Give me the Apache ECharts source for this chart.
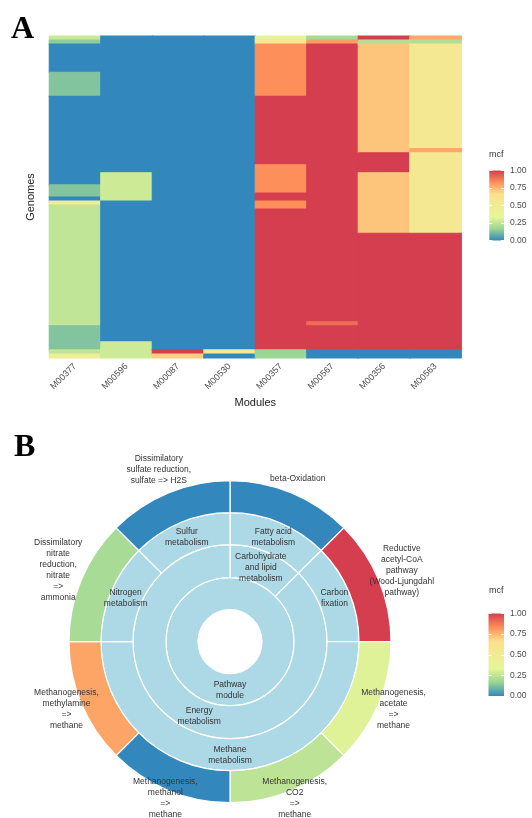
<!DOCTYPE html>
<html>
<head>
<meta charset="utf-8">
<script src="https://cdn.jsdelivr.net/npm/echarts@6/dist/echarts.min.js"></script>
<style>
  html, body { margin: 0; padding: 0; background: #fff; }
  #main { width: 532px; height: 818px; }
</style>
</head>
<body>
<div id="main"></div>
<script>
// spectral palette, low mcf -> high mcf
var spectral = ['#3288bd', '#99d594', '#e6f598', '#f1eb95', '#fee08b', '#fc8d59', '#d53e4f'];

// panel A: modules and per-genome mcf, read top to bottom as [mcf, number of genomes]
var modules = ['M00377', 'M00596', 'M00087', 'M00530', 'M00357', 'M00567', 'M00356', 'M00563'];
var m00377 = [[0.27, 1], [0.15, 1], [0, 7], [0.13, 6], [0, 22], [0.13, 3], [0, 1], [0.45, 1], [0.25, 30], [0.13, 6], [0.25, 1], [0.45, 1]];
var m00596 = [[0, 34], [0.28, 7], [0, 35], [0.28, 4]];
var m00087 = [[0, 78], [1, 1], [0.7, 1]];
var m00530 = [[0, 78], [0.5, 1], [0, 1]];
var m00357 = [[0.33, 1], [0.55, 1], [0.83, 13], [1, 17], [0.83, 7], [1, 2], [0.83, 2], [1, 35], [0.17, 2]];
var m00567 = [[0.2, 1], [0.8, 1], [1, 69], [0.9, 1], [1, 6], [0, 2]];
var m00356 = [[1, 1], [0.22, 1], [0.72, 27], [1, 5], [0.72, 15], [1, 29], [0, 2]];
var m00563 = [[0.78, 1], [0.22, 1], [0.55, 26], [0.78, 1], [0.55, 20], [1, 29], [0, 2]];
var moduleRuns = [m00377, m00596, m00087, m00530, m00357, m00567, m00356, m00563];

// panel B: pathway modules (outer ring) and their mcf
var outerModules = [
    'beta-Oxidation',
    'Reductive\nacetyl-CoA\npathway\n(Wood-Ljungdahl\npathway)',
    'Methanogenesis,\nacetate\n=>\nmethane',
    'Methanogenesis,\nCO2\n=>\nmethane',
    'Methanogenesis,\nmethanol\n=>\nmethane',
    'Methanogenesis,\nmethylamine\n=>\nmethane',
    'Dissimilatory\nnitrate\nreduction,\nnitrate\n=>\nammonia',
    'Dissimilatory\nsulfate reduction,\nsulfate => H2S'
];
var outerMcf = [0, 1, 0.32, 0.245, 0, 0.786, 0.2, 0];

var chart = echarts.init(document.getElementById('main'));

// one block per run of genomes: [module, first genome, genome count, mcf]
var blocks = [];
var genomes = [];
moduleRuns.forEach(function(runs, xi) {
    var row = 0;
    runs.forEach(function(run) {
        blocks.push([xi, row, run[1], run[0]]);
        row += run[1];
    });
    while (genomes.length < row) {
        genomes.push('G' + (genomes.length + 1));
    }
});

var renderBlock = function(params, api) {
    var start = api.coord([api.value(0), api.value(1)]);
    var band = api.size([1, 1]);
    var color = api.visual('color');
    return {
        type: 'rect',
        shape: {
            x: start[0] - band[0] / 2,
            y: start[1] - band[1] / 2,
            width: band[0],
            height: band[1] * api.value(2)
        },
        style: { fill: color, stroke: color, lineWidth: 1.2 }
    };
};

var leaf = function(i) {
    return {
        name: outerModules[i],
        value: 1,
        itemStyle: { color: echarts.color.lerp(outerMcf[i], spectral) }
    };
};

var tree = [{
    name: 'Pathway\nmodule',
    children: [{
        name: 'Carbohydrate\nand lipid\nmetabolism',
        children: [{ name: 'Fatty acid\nmetabolism', children: [leaf(0)] }]
    }, {
        name: 'Energy\nmetabolism',
        children: [
            { name: 'Carbon\nfixation', children: [leaf(1)] },
            { name: 'Methane\nmetabolism', children: [leaf(2), leaf(3), leaf(4), leaf(5)] },
            { name: 'Nitrogen\nmetabolism', children: [leaf(6)] },
            { name: 'Sulfur\nmetabolism', children: [leaf(7)] }
        ]
    }]
}];

var gradient = new echarts.graphic.LinearGradient(0, 1, 0, 0, spectral.map(function(c, i) {
    return { offset: i / (spectral.length - 1), color: c };
}));

var font = 'Liberation Sans';
var tagStyle = { fontFamily: 'Liberation Serif', fontWeight: 'bold', fontSize: 32, color: '#000' };
var mcfStyle = { fontFamily: font, fontWeight: 'normal', fontSize: 9, color: '#333' };
var innerLabel = { rotate: 0, fontFamily: font, fontSize: 8.5, lineHeight: 11, color: '#333' };

var colorbarY = function(gridIndex, side, labels) {
    return {
        type: 'value',
        gridIndex: gridIndex,
        position: side,
        min: 0,
        max: 1,
        interval: 0.25,
        z: 10,
        axisLine: { show: false },
        splitLine: { show: false },
        axisTick: { show: true, inside: true, length: 3, lineStyle: { color: '#fff', width: 1 } },
        axisLabel: {
            show: labels,
            margin: 6,
            fontFamily: font,
            fontSize: 8.5,
            color: '#4d4d4d',
            formatter: function(v) { return v.toFixed(2); }
        }
    };
};

var colorbarX = function(gridIndex) {
    return { type: 'category', gridIndex: gridIndex, data: ['mcf'], show: false };
};

// transparent ring only used to place some of the module names round the outside
var labelRing = function(inner, outer, shown) {
    return {
        type: 'pie',
        center: [230, 641.7],
        radius: [inner, outer],
        startAngle: 90,
        clockwise: true,
        silent: true,
        avoidLabelOverlap: false,
        itemStyle: { color: 'rgba(0,0,0,0)' },
        label: {
            position: 'inside',
            formatter: '{b}',
            fontFamily: font,
            fontSize: 8.5,
            lineHeight: 11,
            color: '#333'
        },
        labelLine: { show: false },
        data: outerModules.map(function(name, i) {
            return { name: name, value: 1, label: { show: shown.indexOf(i) >= 0 } };
        })
    };
};

var option = {
    animation: false,
    backgroundColor: '#fff',
    title: [
        { text: 'A', left: 11, top: 14, padding: 0, textStyle: tagStyle },
        { text: 'B', left: 14, top: 432, padding: 0, textStyle: tagStyle },
        { text: 'mcf', left: 489, top: 150, padding: 0, textStyle: mcfStyle },
        { text: 'mcf', left: 489, top: 586, padding: 0, textStyle: mcfStyle }
    ],
    grid: [
        { left: 49.3, top: 36, width: 412, height: 322 },
        { left: 489.3, top: 170.5, width: 14.7, height: 70 },
        { left: 488.5, top: 613.5, width: 15.5, height: 82.5 }
    ],
    visualMap: {
        show: false,
        type: 'continuous',
        seriesIndex: 0,
        dimension: 3,
        min: 0,
        max: 1,
        inRange: { color: spectral }
    },
    xAxis: [{
        type: 'category',
        gridIndex: 0,
        data: modules,
        axisLine: { show: false },
        axisTick: { show: false },
        splitLine: { show: false },
        axisLabel: { rotate: 45, margin: 7, fontFamily: font, fontSize: 9, color: '#4d4d4d' },
        name: 'Modules',
        nameLocation: 'middle',
        nameGap: 39,
        nameTextStyle: { fontFamily: font, fontSize: 11, color: '#222' }
    }, colorbarX(1), colorbarX(2)],
    yAxis: [{
        type: 'category',
        gridIndex: 0,
        data: genomes,
        inverse: true,
        axisLine: { show: false },
        axisTick: { show: false },
        axisLabel: { show: false },
        splitLine: { show: false },
        name: 'Genomes',
        nameLocation: 'middle',
        nameGap: 13,
        nameTextStyle: { fontFamily: font, fontSize: 11, color: '#222' }
    }, colorbarY(1, 'right', true), colorbarY(1, 'left', false),
       colorbarY(2, 'right', true), colorbarY(2, 'left', false)],
    series: [{
        type: 'custom',
        xAxisIndex: 0,
        yAxisIndex: 0,
        data: blocks,
        encode: { x: 0, y: 1 },
        renderItem: renderBlock,
        silent: true
    }, {
        type: 'bar',
        xAxisIndex: 1,
        yAxisIndex: 1,
        data: [1],
        barWidth: '100%',
        silent: true,
        itemStyle: { color: gradient }
    }, {
        type: 'bar',
        xAxisIndex: 2,
        yAxisIndex: 3,
        data: [1],
        barWidth: '100%',
        silent: true,
        itemStyle: { color: gradient }
    }, {
        type: 'sunburst',
        center: [230, 641.7],
        radius: [32, 161],
        sort: null,
        nodeClick: false,
        emphasis: { focus: 'none' },
        data: tree,
        itemStyle: { borderColor: '#fff', borderWidth: 1.2 },
        levels: [{}, {
            r0: 32, r: 64,
            itemStyle: { color: '#add8e6' },
            label: innerLabel
        }, {
            r0: 64, r: 97,
            itemStyle: { color: '#add8e6' },
            label: innerLabel
        }, {
            r0: 97, r: 129,
            itemStyle: { color: '#add8e6' },
            label: innerLabel
        }, {
            r0: 129, r: 161,
            label: { show: false }
        }]
    },
    labelRing(166, 200, [1, 6, 7]),
    labelRing(161, 187, [0, 2, 5]),
    labelRing(156, 176, [3, 4])]
};
chart.setOption(option);
</script>
</body>
</html>
